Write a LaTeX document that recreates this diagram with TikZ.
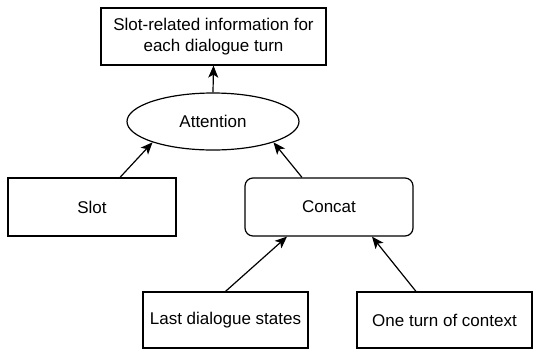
\documentclass[tikz,border=0pt]{standalone}
\usepackage{fontspec}
\setmainfont{Liberation Sans}
\usetikzlibrary{shapes.geometric,arrows.meta}
\begin{document}
\begin{tikzpicture}[x=1pt,y=-1pt,
  box/.style={draw,line width=1.2pt,minimum width=#1,minimum height=57pt,inner sep=0pt,align=center,font=\fontsize{17}{20.5}\selectfont},
  rbox/.style={box=#1,rounded corners=8pt},
  oval/.style={draw,ellipse,line width=1.2pt,minimum width=172pt,minimum height=57pt,inner sep=0pt,font=\fontsize{17}{20.5}\selectfont},
  conn/.style={line width=1.2pt,-{Stealth[length=12pt,width=10pt,inset=3pt]}}]
\useasboundingbox (0,0) rectangle (533,349);
\node[box=225pt] (top) at (213.5,36.5) {Slot-related information for\\each dialogue turn};
\node[oval] (att) at (213,121.5) {Attention};
\node[box=168pt,minimum height=58pt] (slot) at (92,207) {Slot};
\node[rbox=168pt,minimum height=58pt] (concat) at (329,207) {Concat};
\node[box=165pt,minimum height=56pt] (last) at (225.5,320) {Last dialogue states};
\node[box=175pt,minimum height=56pt] (one) at (444.5,320) {One turn of context};
\draw[conn] (att.north) -- (top.south);
\draw[conn] ([xshift=28pt]slot.north) -- (att.199);
\draw[conn] ([xshift=-27pt]concat.north) -- (att.341);
\draw[conn] (last.north) -- ([xshift=-42pt]concat.south);
\draw[conn] ([xshift=-28.5pt]one.north) -- ([xshift=43pt]concat.south);
\end{tikzpicture}
\end{document}
